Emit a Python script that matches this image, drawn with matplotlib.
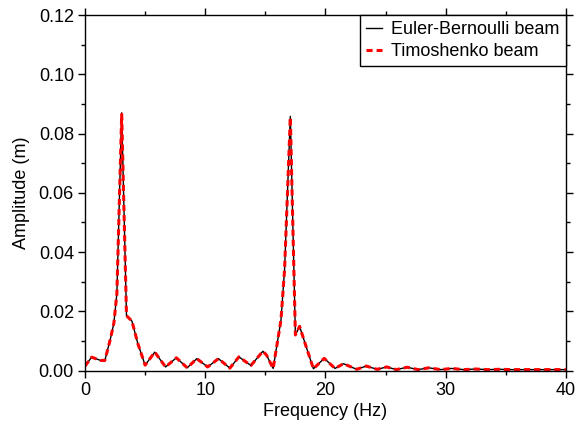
import matplotlib
matplotlib.use("Agg")
import matplotlib.pyplot as plt
from matplotlib.ticker import MultipleLocator

# frequency (Hz) and amplitude (m)
freq = [0.0, 0.55, 1.3, 1.65, 2.1, 2.4, 2.65, 3.05, 3.45, 3.9, 4.4, 5.0,
        5.8, 6.7, 7.6, 8.5, 9.3, 10.2, 11.1, 12.05, 12.8, 13.8, 14.8, 15.1,
        15.65, 16.3, 16.6, 17.08, 17.5, 17.85, 18.4, 19.0, 19.9, 20.8, 21.5,
        22.6, 23.4, 24.3, 25.1, 25.9, 26.8, 27.7, 28.6, 29.6, 30.5, 31.5,
        32.5, 33.5, 34.5, 35.5, 36.5, 37.5, 38.5, 40.0]
euler = [0.0015, 0.0045, 0.0034, 0.0034, 0.0105, 0.016, 0.026, 0.087, 0.0185,
         0.0167, 0.009, 0.0018, 0.0062, 0.0012, 0.0043, 0.0009, 0.0040, 0.0012,
         0.0040, 0.0008, 0.0046, 0.0017, 0.0065, 0.0052, 0.0007, 0.017, 0.034,
         0.0858, 0.012, 0.0149, 0.008, 0.0006, 0.0041, 0.0007, 0.0023, 0.0004,
         0.0015, 0.0004, 0.0012, 0.0003, 0.0011, 0.0003, 0.0009, 0.0003, 0.0007,
         0.0003, 0.0005, 0.0003, 0.0004, 0.0003, 0.0003, 0.0003, 0.0003, 0.0003]
timoshenko = [0.0015, 0.0045, 0.0034, 0.0034, 0.0105, 0.016, 0.026, 0.0865, 0.0185,
              0.0167, 0.009, 0.0018, 0.0062, 0.0012, 0.0043, 0.0009, 0.0040, 0.0012,
              0.0040, 0.0008, 0.0046, 0.0017, 0.0065, 0.0052, 0.0007, 0.017, 0.034,
              0.0855, 0.012, 0.0149, 0.008, 0.0006, 0.0041, 0.0007, 0.0023, 0.0004,
              0.0015, 0.0004, 0.0012, 0.0003, 0.0011, 0.0003, 0.0009, 0.0003, 0.0007,
              0.0003, 0.0005, 0.0003, 0.0004, 0.0003, 0.0003, 0.0003, 0.0003, 0.0003]

plt.rcParams['font.family'] = ['Liberation Sans', 'DejaVu Sans']
plt.rcParams['font.size'] = 13

fig = plt.figure(figsize=(5.8, 4.34), dpi=100)
ax = fig.add_axes([0.1466, 0.1463, 0.829, 0.819])

ax.plot(freq, euler, color='black', lw=1.0, label='Euler-Bernoulli beam')
ax.plot(freq, timoshenko, color='red', lw=2.2, ls=(0, (2.0, 1.3)), label='Timoshenko beam')

ax.set_xlim(0, 40)
ax.set_ylim(0, 0.12)
ax.xaxis.set_major_locator(MultipleLocator(10))
ax.xaxis.set_minor_locator(MultipleLocator(5))
ax.yaxis.set_major_locator(MultipleLocator(0.02))
ax.yaxis.set_minor_locator(MultipleLocator(0.01))
ax.yaxis.set_major_formatter(matplotlib.ticker.FormatStrFormatter('%.2f'))
ax.tick_params(which='both', direction='out', top=True, right=True, width=1.0)
ax.tick_params(which='major', length=5, pad=3)
ax.tick_params(which='minor', length=3)
for s in ax.spines.values():
    s.set_linewidth(1.0)

ax.set_xlabel('Frequency (Hz)', labelpad=3)
ax.set_ylabel('Amplitude (m)', labelpad=6)

leg = ax.legend(loc='upper right', borderaxespad=0, fancybox=False, framealpha=1,
                edgecolor='black', handlelength=0.9, handletextpad=0.5,
                borderpad=0.35, labelspacing=0.25)
leg.get_frame().set_linewidth(1.0)

fig.savefig('out.png', dpi=100)
